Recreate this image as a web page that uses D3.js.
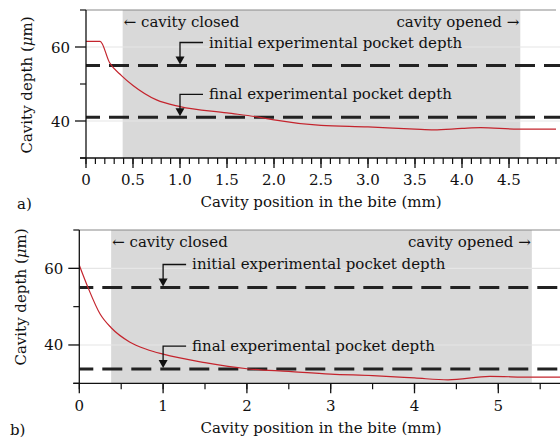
<!DOCTYPE html>
<html><head><meta charset="utf-8">
<script src="https://cdn.jsdelivr.net/npm/d3@7"></script>
<style>
html,body{margin:0;padding:0;background:#fff;}
svg{display:block;}
text{font-family:"DejaVu Serif",serif;fill:#111;}
</style></head>
<body>
<script>
// Panel a data
const aX = [0, 0.15, 0.25, 0.38, 0.5, 0.75, 1.0, 1.5, 1.85, 2.0, 2.5, 3.0, 3.5, 3.7, 4.0, 4.2, 4.6, 5.0];
const aY = [61.5, 61.5, 55.8, 52.2, 49.6, 45.7, 43.9, 42.2, 41.0, 40.3, 38.8, 38.4, 37.8, 37.6, 38.0, 38.2, 37.8, 37.8];
const aShade = [0.39, 4.62];
const aLevels = [55, 41];
const aXTicks = [0, 0.5, 1.0, 1.5, 2.0, 2.5, 3.0, 3.5, 4.0, 4.5];
const aXTickLabels = ["0", "0.5", "1.0", "1.5", "2.0", "2.5", "3.0", "3.5", "4.0", "4.5"];

// Panel b data
const bX = [0, 0.1, 0.25, 0.38, 0.6, 0.8, 1.0, 1.5, 2.0, 2.5, 3.0, 3.5, 4.0, 4.4, 4.9, 5.4, 5.8];
const bY = [60.8, 55.2, 48.0, 44.5, 40.8, 38.9, 37.6, 35.4, 33.8, 33.1, 32.4, 32.0, 31.4, 30.9, 31.8, 31.6, 31.6];
const bShade = [0.38, 5.4];
const bLevels = [55, 33.7];
const bXTicks = [0, 1, 2, 3, 4, 5];
const bXTickLabels = ["0", "1", "2", "3", "4", "5"];

const yTicks = [40, 60];
const yTickLabels = ["40", "60"];
const levelNames = ["initial experimental pocket depth", "final experimental pocket depth"];

const W = 560, H = 443;
const svg = d3.select("body").append("svg").attr("width", W).attr("height", H);

function panel(o) {
  const g = svg.append("g");
  const x = d3.scaleLinear().domain(o.xDomain).range([o.left, o.right]);
  const y = d3.scaleLinear().domain([30, 70]).range([o.bottom, o.top]);

  g.append("rect").attr("x", x(o.shade[0])).attr("y", o.top)
    .attr("width", x(o.shade[1]) - x(o.shade[0])).attr("height", o.bottom - o.top)
    .attr("fill", "#d9d9d9");

  g.selectAll(".grid").data(yTicks).join("line")
    .attr("x1", o.left).attr("x2", W).attr("y1", d => y(d)).attr("y2", d => y(d))
    .attr("stroke", "#e6e6e6").attr("stroke-width", 1.2);

  g.append("line").attr("x1", o.left).attr("x2", Math.min(o.right, W)).attr("y1", o.top).attr("y2", o.top)
    .attr("stroke", "#8a8a8a").attr("stroke-width", 1.2);

  g.selectAll(".lvl").data(o.levels).join("line")
    .attr("x1", o.left).attr("x2", W).attr("y1", d => y(d)).attr("y2", d => y(d))
    .attr("stroke", "#222").attr("stroke-width", 3).attr("stroke-dasharray", "20,9")
    .attr("stroke-dashoffset", o.dashOff);

  const line = d3.line().x(d => x(d[0])).y(d => y(d[1])).curve(d3.curveMonotoneX);
  g.append("path").datum(o.xs.map((v, i) => [v, o.ys[i]]))
    .attr("d", line).attr("fill", "none").attr("stroke", "#c4242d").attr("stroke-width", 1.2);

  o.levels.forEach((lv, i) => {
    const ax = x(o.arrowX), ly = y(lv), hy = ly - 23;
    g.append("path").attr("d", `M${ax + 23},${hy}H${ax}V${ly - 6}`)
      .attr("fill", "none").attr("stroke", "#111").attr("stroke-width", 1.3);
    g.append("path").attr("d", `M${ax - 4.5},${ly - 9}L${ax + 4.5},${ly - 9}L${ax},${ly - 1}Z`)
      .attr("fill", "#111");
    g.append("text").attr("x", ax + 29).attr("y", hy + 5).attr("font-size", 15).text(levelNames[i]);
  });

  g.append("text").attr("x", x(o.shade[0]) + 1).attr("y", o.top + 17).attr("font-size", 15)
    .text("\u2190 cavity closed");
  g.append("text").attr("x", x(o.shade[1]) - 1).attr("y", o.top + 17).attr("font-size", 15)
    .attr("text-anchor", "end").text("cavity opened \u2192");

  const xa = g.append("g").attr("transform", `translate(0,${o.bottom})`);
  xa.append("line").attr("x1", o.left - 6).attr("x2", W).attr("stroke", "#111").attr("stroke-width", 1.3);
  xa.selectAll(".minor").data(o.minorX).join("line")
    .attr("x1", d => x(d)).attr("x2", d => x(d)).attr("y1", 0).attr("y2", 6)
    .attr("stroke", "#111").attr("stroke-width", 1.2);
  xa.selectAll(".major").data(o.xTicks).join("line")
    .attr("x1", d => x(d)).attr("x2", d => x(d)).attr("y1", 0).attr("y2", 10)
    .attr("stroke", "#111").attr("stroke-width", 1.3);
  xa.selectAll(".lab").data(o.xTicks).join("text")
    .attr("x", d => x(d)).attr("y", o.xLabY).attr("text-anchor", "middle").attr("font-size", 15)
    .text((d, i) => o.xTickLabels[i]);

  const ya = g.append("g").attr("transform", `translate(${o.left},0)`);
  ya.append("line").attr("y1", o.top).attr("y2", o.bottom).attr("stroke", "#111").attr("stroke-width", 1.3);
  ya.selectAll(".ym").data([30, 50, 70]).join("line")
    .attr("y1", d => y(d)).attr("y2", d => y(d)).attr("x1", -6).attr("x2", 0)
    .attr("stroke", "#111").attr("stroke-width", 1.2);
  ya.selectAll(".yM").data(yTicks).join("line")
    .attr("y1", d => y(d)).attr("y2", d => y(d)).attr("x1", -11).attr("x2", 0)
    .attr("stroke", "#111").attr("stroke-width", 1.3);
  ya.selectAll(".yl").data(yTicks).join("text")
    .attr("x", -16).attr("y", d => y(d) + 5.5).attr("text-anchor", "end").attr("font-size", 15)
    .text((d, i) => yTickLabels[i]);

  g.append("text").attr("x", 321).attr("y", o.xTitleY).attr("text-anchor", "middle").attr("font-size", 15)
    .text("Cavity position in the bite (mm)");
  const yt = g.append("text").attr("transform", `translate(${o.yTitleX},${o.yTitleCY}) rotate(-90)`)
    .attr("text-anchor", "middle").attr("font-size", 15);
  yt.append("tspan").text("Cavity depth (");
  yt.append("tspan").attr("font-style", "italic").text("\u03bc");
  yt.append("tspan").text("m)");

  g.append("text").attr("x", o.tagX).attr("y", o.tagY).attr("font-size", 15).text(o.tag);
}

panel({
  xDomain: [0, 5], left: 86, right: 556, top: 10, bottom: 158,
  xs: aX, ys: aY, shade: aShade, levels: aLevels, arrowX: 1.0, dashOff: 6,
  xTicks: aXTicks, xTickLabels: aXTickLabels, minorX: d3.range(0, 51).map(i => i / 10),
  xLabY: 27, xTitleY: 207, yTitleX: 32, yTitleCY: 85, tag: "a)", tagX: 17, tagY: 209
});
panel({
  xDomain: [0, 6], left: 79.3, right: 582.1, top: 230, bottom: 383.3,
  xs: bX, ys: bY, shade: bShade, levels: bLevels, arrowX: 1.0, dashOff: 6,
  xTicks: bXTicks, xTickLabels: bXTickLabels, minorX: d3.range(0, 13).map(i => i / 2),
  xLabY: 28, xTitleY: 433, yTitleX: 26, yTitleCY: 297, tag: "b)", tagX: 10, tagY: 435
});
</script>
</body></html>
